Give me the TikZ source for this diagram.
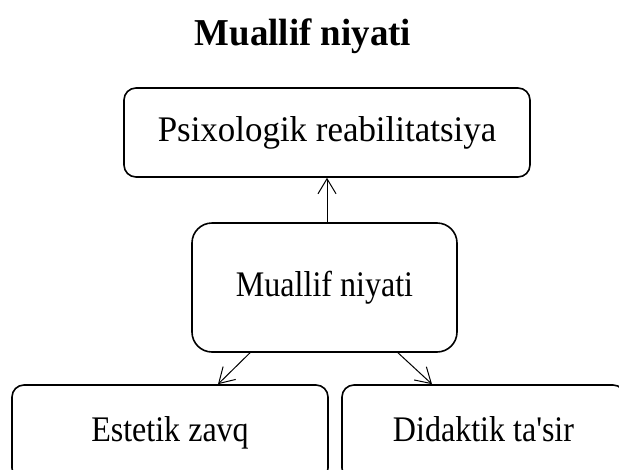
\documentclass[tikz,border=0pt]{standalone}
\usepackage{fontspec}
\setmainfont{Liberation Serif}[Ligatures=TeXOff]
\usetikzlibrary{arrows.meta}

\begin{document}
\begin{tikzpicture}[x=1pt, y=-1pt,
  hop/.style={draw, line width=1.6pt, rounded corners=12pt, inner sep=0pt, align=center, text height=25pt, text depth=8pt, font=\fontsize{36}{42}\selectfont\addfontfeature{FakeStretch=0.89}},
  muiten/.style={-{Straight Barb[length=15pt, width=18pt]}, line width=1pt}]
\useasboundingbox (0,0) rectangle (619,469);

% Vẽ tiêu đề
\node (tieude) at (303,45) [anchor=base, font=\fontsize{38}{44}\selectfont\bfseries\addfontfeature{FakeStretch=0.97}] {Muallif niyati};

% Vẽ các hộp
\node (tamly) at (327,132.5) [hop, minimum width=406pt, minimum height=89pt, font=\fontsize{36}{42}\selectfont\addfontfeature{FakeStretch=0.97}] {Psixologik reabilitatsiya};
\node (niyat) at (324.5,287.5) [hop, minimum width=265pt, minimum height=129pt, rounded corners=20pt] {Muallif niyati};
\node (zavq) at (170,432.5) [hop, minimum width=316pt, minimum height=95pt] {Estetik zavq};
\node (tasir) at (483.5,432.5) [hop, minimum width=283pt, minimum height=95pt] {Didaktik ta'sir};

% Vẽ mũi tên
\draw[muiten] (niyat.north -| tamly.south) -- (tamly.south);
\draw[muiten] ([xshift=-74.5pt]niyat.south) -- ([xshift=48pt]zavq.north);
\draw[muiten] ([xshift=73.5pt]niyat.south) -- ([xshift=-51.5pt]tasir.north);
\end{tikzpicture}
\end{document}
